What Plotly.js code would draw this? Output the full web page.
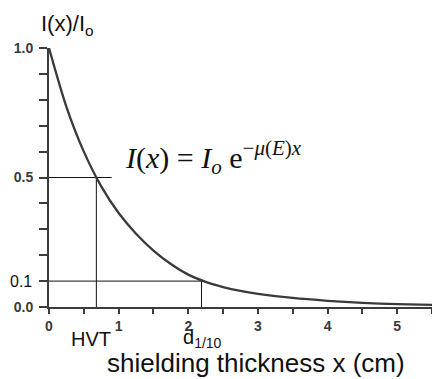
<!DOCTYPE html>
<html>
<head>
<meta charset="utf-8">
<script src="https://cdn.plot.ly/plotly-3.0.1.min.js"></script>
<style>
  html, body { margin: 0; padding: 0; background: #fff; }
  #chart { width: 432px; height: 379px; }
</style>
</head>
<body>
<div id="chart"></div>
<script>
// Attenuation curve I(x)/Io versus shielding thickness (cm)
const thickness = [0, 0.25, 0.5, 0.75, 1.0, 1.25, 1.5, 1.75, 2.0, 2.25, 2.5, 2.75, 3.0, 3.5, 4.0, 4.5, 5.0, 5.5];
const intensity = [1.0, 0.773, 0.6, 0.466, 0.363, 0.283, 0.218, 0.166, 0.125, 0.097, 0.077, 0.062, 0.051, 0.035, 0.024, 0.016, 0.011, 0.008];

// Half-value thickness and tenth-value thickness markers
const hvtX = 0.68;
const hvtY = 0.5;
const hvtLineEnd = 0.9;
const tenthX = 2.19;
const tenthY = 0.1;

const W = 432, H = 379;
const M = { l: 49, r: 0, t: 48, b: 72 };
const px = x => (x - M.l) / (W - M.l - M.r);
const py = y => (H - M.b - y) / (H - M.t - M.b);

const guide = { color: '#111', width: 1 };

const traces = [
  { x: [0, hvtLineEnd], y: [hvtY, hvtY], mode: 'lines', line: guide, hoverinfo: 'skip' },
  { x: [hvtX, hvtX], y: [0, hvtY], mode: 'lines', line: guide, hoverinfo: 'skip' },
  { x: [0, tenthX], y: [tenthY, tenthY], mode: 'lines', line: guide, hoverinfo: 'skip' },
  { x: [tenthX, tenthX], y: [0, tenthY], mode: 'lines', line: guide, hoverinfo: 'skip' },
  { x: thickness, y: intensity, mode: 'lines',
    line: { color: '#3a3a3a', width: 2.3, shape: 'spline', smoothing: 0.8 } }
];

const axisCol = '#3c3c3c';
const tickFont = { family: 'Liberation Sans, Arial, sans-serif', size: 14, color: '#3a3a3a', weight: 'bold' };

const layout = {
  width: W, height: H,
  margin: M,
  paper_bgcolor: '#fff', plot_bgcolor: '#fff',
  showlegend: false,
  xaxis: {
    range: [0, 5.5], showgrid: false, zeroline: false,
    showline: true, linecolor: axisCol, linewidth: 2,
    ticks: 'outside', ticklen: 5, tickwidth: 2, tickcolor: axisCol,
    dtick: 1, tick0: 0, tickfont: tickFont, ticklabelstandoff: 0,
    minor: { dtick: 0.5, tick0: 0, ticks: 'outside', ticklen: 5, tickwidth: 2, tickcolor: axisCol, showgrid: false }
  },
  yaxis: {
    range: [0, 1], showgrid: false, zeroline: false,
    showline: true, linecolor: axisCol, linewidth: 2,
    ticks: 'outside', ticklen: 8, tickwidth: 2, tickcolor: axisCol,
    dtick: 0.5, tick0: 0, tickformat: '.1f', tickfont: tickFont, ticklabelstandoff: 3,
    minor: { dtick: 0.1, tick0: 0, ticks: 'outside', ticklen: 8, tickwidth: 2, tickcolor: axisCol, showgrid: false }
  },
  annotations: [
    { text: 'I(x)/I<sub>o</sub>', xref: 'paper', yref: 'paper', x: px(39), y: py(25),
      xanchor: 'left', yanchor: 'middle', showarrow: false,
      font: { family: 'Liberation Sans, Arial, sans-serif', size: 22, color: '#111' } },
    { text: '<i>I</i>(<i>x</i>) = <i>I</i><sub><i>o</i></sub> e<sup>\u2212<i>\u03bc</i>(<i>E</i>)<i>x</i></sup>',
      xref: 'paper', yref: 'paper', x: px(123), y: py(157),
      xanchor: 'left', yanchor: 'middle', showarrow: false,
      font: { family: 'Liberation Serif, Times New Roman, serif', size: 30, color: '#111' } },
    { text: '0.1', xref: 'paper', yref: 'paper', x: px(34), y: py(281),
      xanchor: 'right', yanchor: 'middle', showarrow: false,
      font: { family: 'Liberation Sans, Arial, sans-serif', size: 16, color: '#111' } },
    { text: 'HVT', xref: 'paper', yref: 'paper', x: px(69), y: py(339),
      xanchor: 'left', yanchor: 'middle', showarrow: false,
      font: { family: 'Liberation Sans, Arial, sans-serif', size: 20, color: '#111' } },
    { text: 'd<sub>1/10</sub>', xref: 'paper', yref: 'paper', x: px(181), y: py(338),
      xanchor: 'left', yanchor: 'middle', showarrow: false,
      font: { family: 'Liberation Sans, Arial, sans-serif', size: 20, color: '#111' } },
    { text: 'shielding thickness x (cm)', xref: 'paper', yref: 'paper', x: px(256), y: py(363),
      xanchor: 'center', yanchor: 'middle', showarrow: false,
      font: { family: 'Liberation Sans, Arial, sans-serif', size: 26, color: '#111' } }
  ]
};

Plotly.newPlot('chart', traces, layout, { staticPlot: true, displayModeBar: false });
</script>
</body>
</html>
